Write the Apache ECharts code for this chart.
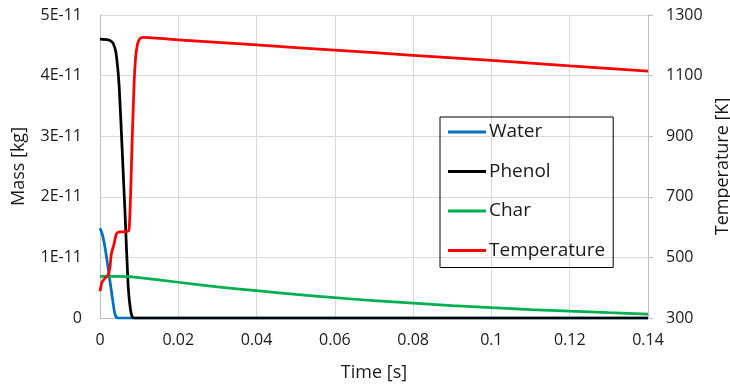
<!DOCTYPE html>
<html>
<head>
<meta charset="utf-8">
<script src="https://cdn.jsdelivr.net/npm/echarts@6/dist/echarts.min.js"></script>
<style>html,body{margin:0;padding:0;background:#fff;}#c{width:730px;height:390px;}</style>
</head>
<body>
<div id="c"></div>
<script>
// ---- data (mass values in units of 1E-11 kg) ----
const waterTime  = [0, 0.0005, 0.0011, 0.0018, 0.0024, 0.0029, 0.0033, 0.0038, 0.0045, 0.14];
const waterMass  = [1.48, 1.40, 1.23, 0.95, 0.67, 0.45, 0.27, 0.07, 0, 0];

const phenolTime = [0, 0.002, 0.0028, 0.0034, 0.0041, 0.0049, 0.0057, 0.0064, 0.0072, 0.0078, 0.0083, 0.0088, 0.14];
const phenolMass = [4.60, 4.59, 4.57, 4.53, 4.37, 3.82, 2.72, 1.72, 0.52, 0.13, 0.01, 0, 0];

const charTime   = [0, 0.004, 0.0076, 0.01, 0.02, 0.03, 0.04, 0.05, 0.06, 0.07, 0.08, 0.09, 0.1, 0.11, 0.12, 0.13, 0.14];
const charMass   = [0.686, 0.688, 0.684, 0.665, 0.59, 0.515, 0.45, 0.39, 0.335, 0.285, 0.245, 0.205, 0.17, 0.14, 0.112, 0.087, 0.065];

const tempTime   = [0, 0.0005, 0.0012, 0.002, 0.0025, 0.0029, 0.0036, 0.0042, 0.005, 0.0067, 0.0074, 0.0078, 0.0082, 0.0087, 0.0091, 0.0096, 0.0102, 0.011, 0.02, 0.04, 0.06, 0.08, 0.1, 0.12, 0.14];
const tempK      = [388, 418, 430, 440, 463, 512, 545, 578, 584, 585, 590, 700, 880, 1069, 1160, 1205, 1222, 1226, 1218, 1201, 1184, 1167, 1150, 1132, 1115];

const massScale = 1e-11;
const massTickLabels = ['0', '1E-11', '2E-11', '3E-11', '4E-11', '5E-11'];
const timeTickLabels = ['0', '0.02', '0.04', '0.06', '0.08', '0.1', '0.12', '0.14'];
const tempTickLabels = ['300', '500', '700', '900', '1100', '1300'];
const seriesNames = ['Water', 'Phenol', 'Char', 'Temperature'];

function zip(t, v, s) { return t.map((x, i) => [x, v[i] * s]); }

const FONT = '"Open Sans", sans-serif';
const TXT = '#1a1a1a';
const GRID = '#d9d9d9';

const chart = echarts.init(document.getElementById('c'), null, {renderer: 'canvas'});
chart.setOption({
  animation: false,
  backgroundColor: '#fff',
  textStyle: {fontFamily: FONT, color: TXT},
  grid: {left: 100, right: 82, top: 15, bottom: 72, containLabel: false, outerBoundsMode: 'none'},
  legend: {
    data: seriesNames,
    orient: 'vertical',
    left: 440, top: 117,
    padding: [5, 8, 7, 8],
    icon: 'rect',
    itemWidth: 38, itemHeight: 3, itemGap: 19.5,
    borderColor: '#000', borderWidth: 1,
    textStyle: {fontFamily: FONT, fontSize: 19, color: TXT, lineHeight: 20, padding: [0, 0, 0, -2]}
  },
  xAxis: {
    type: 'value', min: 0, max: 0.14, interval: 0.02,
    name: 'Time [s]', nameLocation: 'middle', nameGap: 46,
    nameTextStyle: {fontFamily: FONT, fontSize: 18, color: TXT},
    axisLine: {show: true, lineStyle: {color: '#bfbfbf', width: 1}},
    axisTick: {show: false},
    axisLabel: {fontFamily: FONT, fontSize: 16, color: TXT, margin: 14,
      formatter: (v) => timeTickLabels[Math.round(v / 0.02)]},
    splitLine: {show: true, lineStyle: {color: GRID, width: 1}}
  },
  yAxis: [{
    type: 'value', min: 0, max: 5 * massScale, interval: massScale,
    name: 'Mass [kg]', nameLocation: 'middle', nameGap: 72,
    nameTextStyle: {fontFamily: FONT, fontSize: 18, color: TXT},
    axisLine: {show: true, lineStyle: {color: '#bfbfbf', width: 1}},
    axisTick: {show: false},
    axisLabel: {fontFamily: FONT, fontSize: 16, color: TXT, margin: 18,
      formatter: (v) => massTickLabels[Math.round(v / massScale)]},
    splitLine: {show: true, lineStyle: {color: GRID, width: 1}}
  }, {
    type: 'value', min: 300, max: 1300, interval: 200, position: 'right',
    name: 'Temperature [K]', nameLocation: 'middle', nameGap: 60,
    nameTextStyle: {fontFamily: FONT, fontSize: 18, color: TXT},
    axisLine: {show: true, lineStyle: {color: '#bfbfbf', width: 1}},
    axisTick: {show: true, length: 5, lineStyle: {color: '#bfbfbf'}},
    axisLabel: {fontFamily: FONT, fontSize: 16, color: TXT, margin: 18,
      formatter: (v) => tempTickLabels[Math.round((v - 300) / 200)]},
    splitLine: {show: false}
  }],
  series: [
    {name: 'Water', type: 'line', yAxisIndex: 0, symbol: 'none', smooth: 0.2,
     lineStyle: {color: '#0070C0', width: 2.75}, itemStyle: {color: '#0070C0'},
     data: zip(waterTime, waterMass, massScale)},
    {name: 'Phenol', type: 'line', yAxisIndex: 0, symbol: 'none', smooth: 0.2,
     lineStyle: {color: '#000000', width: 2.75}, itemStyle: {color: '#000000'},
     data: zip(phenolTime, phenolMass, massScale)},
    {name: 'Char', type: 'line', yAxisIndex: 0, symbol: 'none', smooth: 0.2,
     lineStyle: {color: '#00B050', width: 2.75}, itemStyle: {color: '#00B050'},
     data: zip(charTime, charMass, massScale)},
    {name: 'Temperature', type: 'line', yAxisIndex: 1, symbol: 'none', smooth: 0.2,
     lineStyle: {color: '#FF0000', width: 2.75}, itemStyle: {color: '#FF0000'},
     data: zip(tempTime, tempK, 1)}
  ]
});
</script>
</body>
</html>
